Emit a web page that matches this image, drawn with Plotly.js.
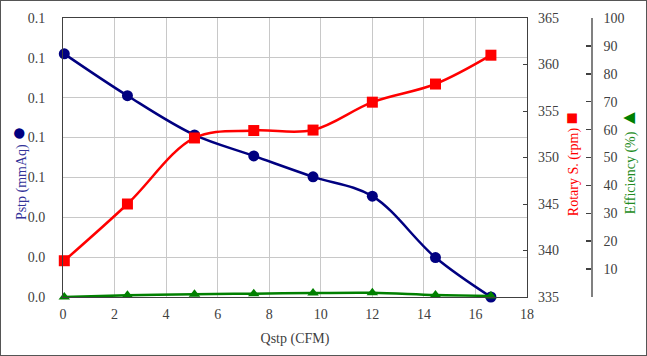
<!DOCTYPE html>
<html><head><meta charset="utf-8">
<script src="https://cdn.plot.ly/plotly-3.0.1.min.js"></script>
<style>
html,body{margin:0;padding:0;background:#fff;}
#wrap{position:relative;width:647px;height:356px;}
#chart{width:647px;height:356px;}
#frame{position:absolute;left:0;top:0;width:645px;height:354px;border:1px solid #555;pointer-events:none;}
</style></head>
<body>
<div id="wrap"><div id="chart"></div><div id="frame"></div></div>
<script>
// Data
const qstp = [0.05, 2.5, 5.1, 7.4, 9.7, 12.0, 14.45, 16.6];      // Qstp (CFM)
const pstp = [0.122, 0.101, 0.0813, 0.0708, 0.0603, 0.0506, 0.0198, 0.0]; // Pstp (mmAq)
const rpm = [338.9, 345.0, 352.1, 352.9, 352.95, 355.95, 357.9, 361.0];  // Rotary S. (rpm)
const eff = [0.0, 0.6, 1.0, 1.2, 1.4, 1.5, 0.7, 0.4];                     // Efficiency (%)
const effTicks = [10, 20, 30, 40, 50, 60, 70, 80, 90, 100];

const FONT = 'Liberation Serif';
function tf() { return {family: FONT, size: 14, color: '#404040'}; }

const traces = [
  {x: qstp, y: pstp, type: 'scatter', mode: 'lines+markers', yaxis: 'y', cliponaxis: false,
   line: {color: '#000080', width: 2.5, shape: 'spline', smoothing: 1},
   marker: {symbol: 'circle', size: 11, color: '#000080'}},
  {x: qstp, y: rpm, type: 'scatter', mode: 'lines+markers', yaxis: 'y2', cliponaxis: false,
   line: {color: '#ff0000', width: 2.5, shape: 'spline', smoothing: 1},
   marker: {symbol: 'square', size: 11, color: '#ff0000'}},
  {x: qstp, y: eff, type: 'scatter', mode: 'lines+markers', yaxis: 'y3', cliponaxis: false,
   line: {color: '#008000', width: 2.5, shape: 'spline', smoothing: 1},
   marker: {symbol: 'triangle-up', size: 10, color: '#008000'}}
];

const layout = {
  width: 647, height: 356,
  margin: {l: 63, r: 20, t: 18, b: 59},
  paper_bgcolor: '#fff', plot_bgcolor: '#fff',
  showlegend: false,
  font: {family: FONT, size: 14, color: '#404040'},
  xaxis: {
    domain: [0, 0.8227], range: [0, 18], dtick: 2, tick0: 0,
    showgrid: true, gridcolor: '#c8c8c8', gridwidth: 1,
    showline: true, linecolor: '#404040', linewidth: 1, mirror: true,
    ticks: '', zeroline: false, tickfont: tf(), ticklabelstandoff: 4,
    title: {text: 'Qstp (CFM)', font: tf(), standoff: 12}
  },
  yaxis: {
    range: [0, 0.14], dtick: 0.02, tick0: 0, tickformat: '.1f',
    showgrid: true, gridcolor: '#c8c8c8', gridwidth: 1,
    showline: true, linecolor: '#404040', linewidth: 1, mirror: true,
    ticks: '', zeroline: false, tickfont: tf(), ticklabelstandoff: 14
  },
  yaxis2: {
    overlaying: 'y', side: 'right', anchor: 'x',
    range: [335, 365], dtick: 5, tick0: 335,
    showgrid: false, zeroline: false, showline: false,
    ticks: 'inside', ticklen: 4, tickcolor: '#404040', tickfont: tf(), ticklabelstandoff: 10
  },
  yaxis3: {
    overlaying: 'y', side: 'right', anchor: 'free', position: 0.9374,
    range: [0, 100], tickvals: effTicks,
    showgrid: false, zeroline: false,
    showline: true, linecolor: '#808080', linewidth: 2,
    ticks: 'inside', ticklen: 5, tickcolor: '#404040', tickwidth: 1.5,
    tickfont: tf(), ticklabelstandoff: 8
  },
  annotations: [
    {text: 'Pstp (mmAq) <span style="font-size:24px;color:#000080">●</span>',
     xref: 'paper', yref: 'paper', x: -0.0798, y: 0.444, xanchor: 'center', yanchor: 'middle',
     textangle: -90, showarrow: false, font: {family: FONT, size: 14, color: '#333399'}},
    {text: 'Rotary S. (rpm) <span style="font-size:20px;color:#ff0000">■</span>',
     xref: 'paper', yref: 'paper', x: 0.902, y: 0.475, xanchor: 'center', yanchor: 'middle',
     textangle: -90, showarrow: false, font: {family: FONT, size: 14, color: '#ff0000'}},
    {text: 'Efficiency (%) <span style="font-size:20px;color:#008000">▲</span>',
     xref: 'paper', yref: 'paper', x: 1.0018, y: 0.487, xanchor: 'center', yanchor: 'middle',
     textangle: -90, showarrow: false, font: {family: FONT, size: 14, color: '#228b22'}}
  ]
};

Plotly.newPlot('chart', traces, layout, {displayModeBar: false, staticPlot: true});
</script>
</body></html>
